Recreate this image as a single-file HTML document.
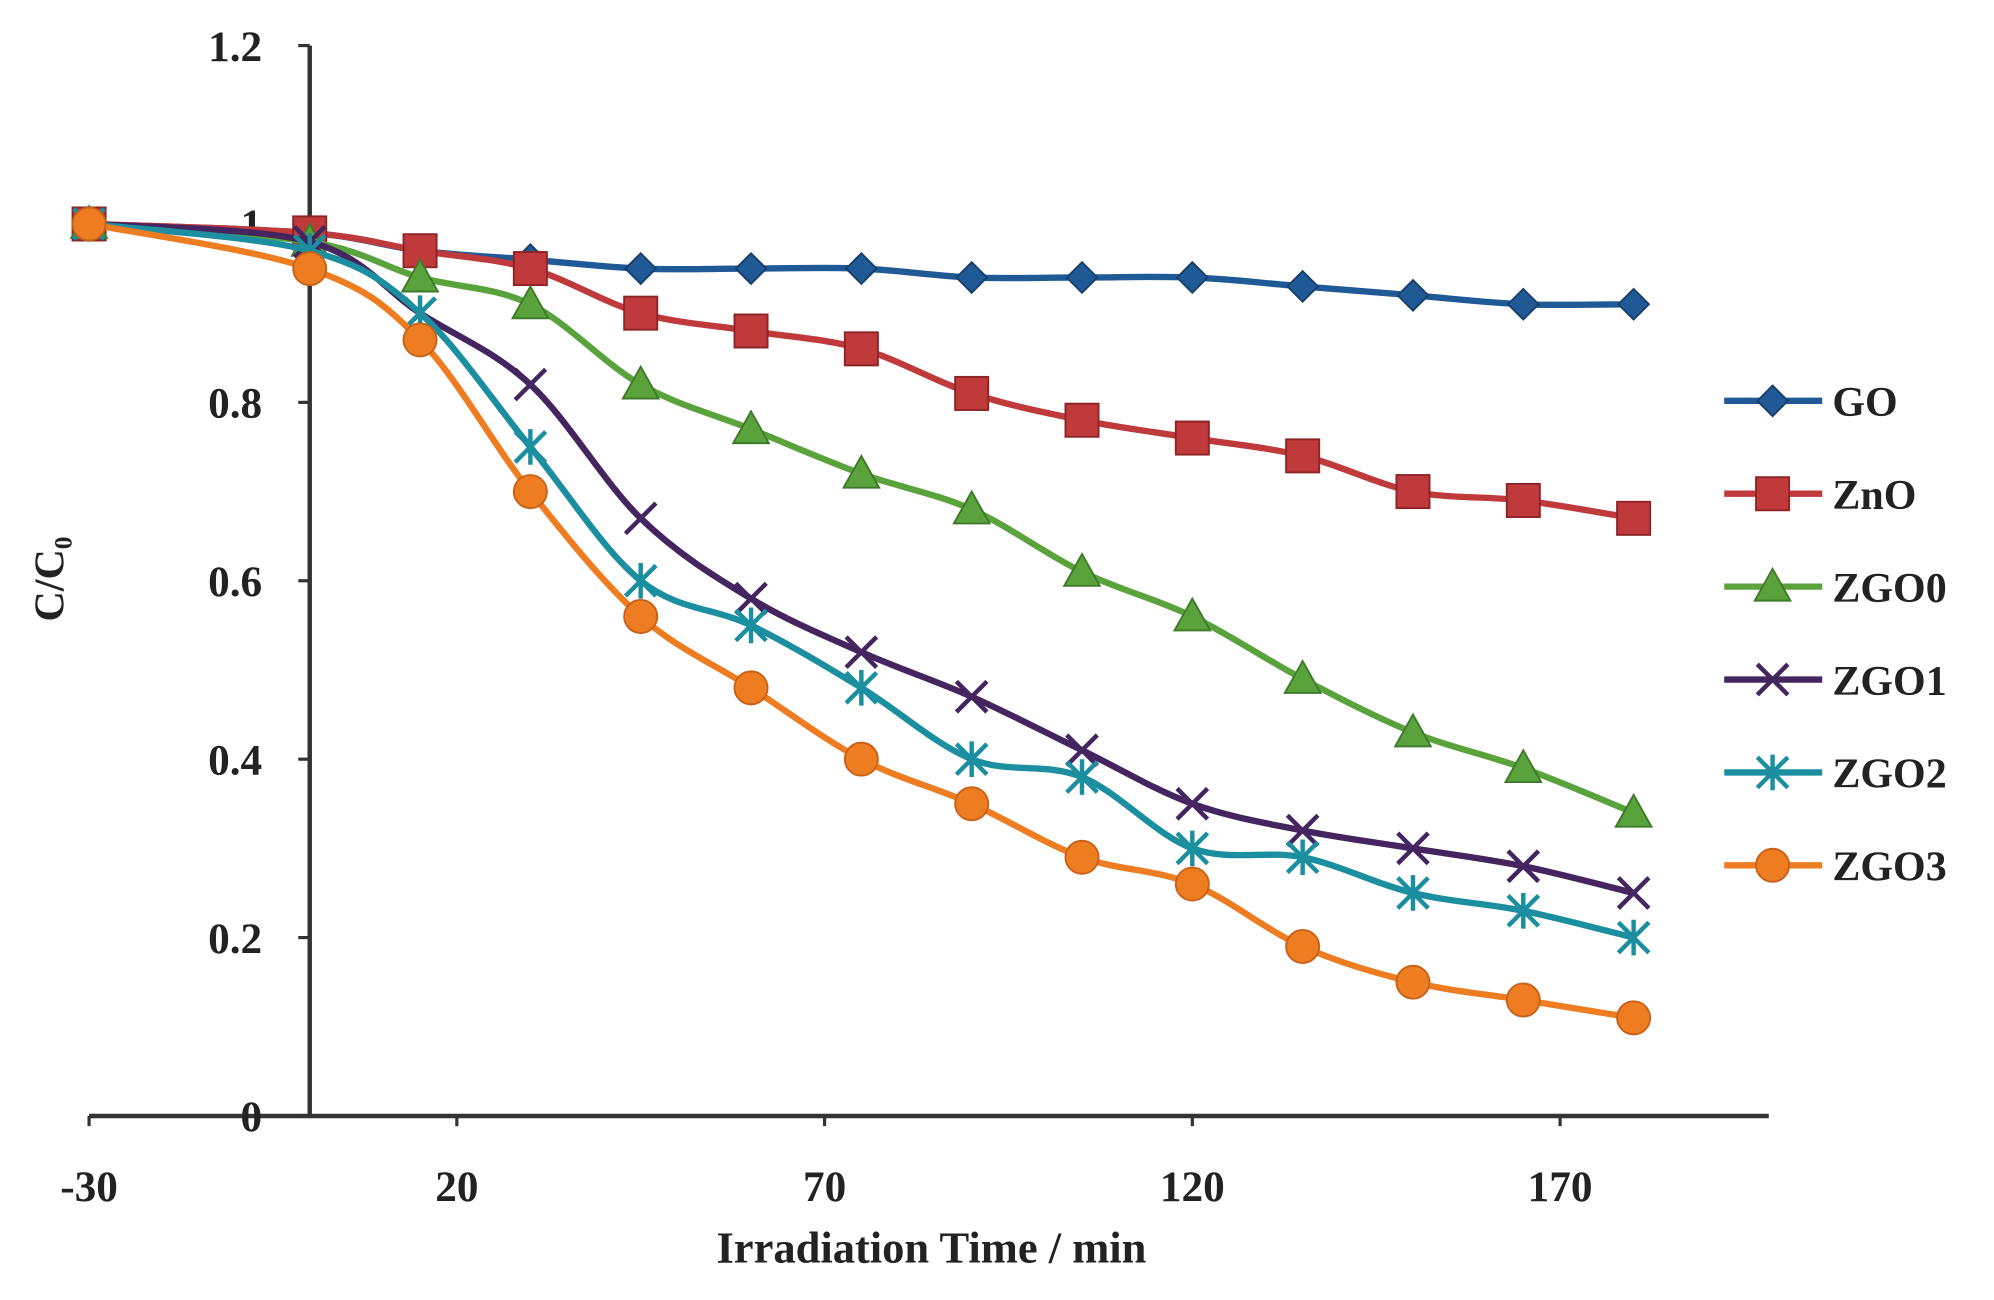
<!DOCTYPE html>
<html><head><meta charset="utf-8"><style>
html,body{margin:0;padding:0;background:#fff;}
svg{display:block;}
text{font-family:"Liberation Serif",serif;font-weight:bold;fill:#222;}
</style></head><body>
<svg id="chart" width="1994" height="1300" viewBox="0 0 1567 1021.6" xmlns="http://www.w3.org/2000/svg">
<g id="axes"></g>
<g id="plot"></g>
<g id="legend"></g>
<text x="732" y="992" font-size="35" text-anchor="middle">Irradiation Time / min</text>
<text transform="translate(50,455) rotate(-90)" font-size="33" text-anchor="middle">C/C<tspan font-size="20" dy="6">0</tspan></text>
</svg>
<script>
const times = [-30,0,15,30,45,60,75,90,105,120,135,150,165,180];
const seriesNames = ["GO","ZnO","ZGO0","ZGO1","ZGO2","ZGO3"];
const goValues   = [1,0.99,0.97,0.96,0.95,0.95,0.95,0.94,0.94,0.94,0.93,0.92,0.91,0.91];
const znoValues  = [1,0.99,0.97,0.95,0.90,0.88,0.86,0.81,0.78,0.76,0.74,0.70,0.69,0.67];
const zgo0Values = [1,0.98,0.94,0.91,0.82,0.77,0.72,0.68,0.61,0.56,0.49,0.43,0.39,0.34];
const zgo1Values = [1,0.98,0.90,0.82,0.67,0.58,0.52,0.47,0.41,0.35,0.32,0.30,0.28,0.25];
const zgo2Values = [1,0.97,0.90,0.75,0.60,0.55,0.48,0.40,0.38,0.30,0.29,0.25,0.23,0.20];
const zgo3Values = [1,0.95,0.87,0.70,0.56,0.48,0.40,0.35,0.29,0.26,0.19,0.15,0.13,0.11];
const xTicks = [-30,20,70,120,170];
const yTicks = [0,0.2,0.4,0.6,0.8,1,1.2];
const yTickLabels = ["0","0.2","0.4","0.6","0.8","1","1.2"];

const NS="http://www.w3.org/2000/svg";
const X = t => 70 + (t+30)*5.78;
const Y = v => 877 - v*701;
function mk(tag, attrs, parent){const e=document.createElementNS(NS,tag);for(const k in attrs)e.setAttribute(k,attrs[k]);parent.appendChild(e);return e;}
const axes=document.getElementById('axes'), plot=document.getElementById('plot'), legend=document.getElementById('legend');

let a=mk('line',{x1:X(-30),y1:Y(0),x2:1390,y2:Y(0),stroke:'#333','stroke-width':3.5},axes);

a=mk('line',{x1:X(0),y1:Y(0),x2:X(0),y2:Y(1.2),stroke:'#333','stroke-width':3.5},axes);

xTicks.forEach(t=>{
  const l=mk('line',{x1:X(t),y1:Y(0),x2:X(t),y2:Y(0)+8,stroke:'#333','stroke-width':2.5},axes);
  
  const tx=mk('text',{x:X(t),y:Y(0)+67,'font-size':34,'text-anchor':'middle'},axes);
  tx.textContent=String(t);
  
});
yTicks.forEach((v,i)=>{
  const l=mk('line',{x1:X(0)-9,y1:Y(v),x2:X(0),y2:Y(v),stroke:'#333','stroke-width':2.5},axes);
  
  const tx=mk('text',{x:206,y:Y(v)+12,'font-size':34,'text-anchor':'end'},axes);
  tx.textContent=yTickLabels[i];
  
});

function smooth(pts){
  let d=`M${pts[0][0]},${pts[0][1]}`;
  for(let i=0;i<pts.length-1;i++){
    const p0=pts[Math.max(0,i-1)],p1=pts[i],p2=pts[i+1],p3=pts[Math.min(pts.length-1,i+2)];
    const k=1/6;
    d+=` C${p1[0]+(p2[0]-p0[0])*k},${p1[1]+(p2[1]-p0[1])*k} ${p2[0]-(p3[0]-p1[0])*k},${p2[1]-(p3[1]-p1[1])*k} ${p2[0]},${p2[1]}`;
  }
  return d;
}
function marker(type,x,y,color,parent){
  let e;
  if(type==='diamond') e=mk('path',{d:`M${x},${y-12}L${x+12},${y}L${x},${y+12}L${x-12},${y}Z`,fill:color,stroke:'#173f6a','stroke-width':1.5},parent);
  else if(type==='square') e=mk('rect',{x:x-13,y:y-13,width:26,height:26,fill:color,stroke:'#8e2426','stroke-width':1.5},parent);
  else if(type==='triangle') e=mk('path',{d:`M${x},${y-14}L${x+14},${y+11}L${x-14},${y+11}Z`,fill:color,stroke:'#3f7a2a','stroke-width':1.5},parent);
  else if(type==='x') e=mk('path',{d:`M${x-12},${y-12}L${x+12},${y+12}M${x-12},${y+12}L${x+12},${y-12}`,stroke:color,'stroke-width':3.5,fill:'none'},parent);
  else if(type==='star') e=mk('path',{d:`M${x-12},${y-12}L${x+12},${y+12}M${x-12},${y+12}L${x+12},${y-12}M${x},${y-14}L${x},${y+14}`,stroke:color,'stroke-width':3.5,fill:'none'},parent);
  else e=mk('circle',{cx:x,cy:y,r:13,fill:color,stroke:'#c8621a','stroke-width':1.5},parent);
  return e;
}
const allValues=[goValues,znoValues,zgo0Values,zgo1Values,zgo2Values,zgo3Values];
const colors=['#1f5a96','#c0393b','#5aa33c','#44255f','#1b8fa0','#ee7d22'];
const markers=['diamond','square','triangle','x','star','circle'];
allValues.forEach((vals,s)=>{
  const g=mk('g',{},plot);
  
  
  const pts=vals.map((v,i)=>[X(times[i]),Y(v)]);
  const p=mk('path',{d:smooth(pts),fill:'none',stroke:colors[s],'stroke-width':5},g);
  
  
  pts.forEach(pt=>{
    const m=marker(markers[s],pt[0],pt[1],colors[s],g);
    
    
  });
  const ly=315+s*73;
  const lg=mk('g',{},legend);
  
  
  mk('line',{x1:1355,y1:ly,x2:1432,y2:ly,stroke:colors[s],'stroke-width':5},lg);
  marker(markers[s],1393,ly,colors[s],lg);
  const t=mk('text',{x:1440,y:ly+12,'font-size':33},lg);
  t.textContent=seriesNames[s];
});
</script>
</body></html>
